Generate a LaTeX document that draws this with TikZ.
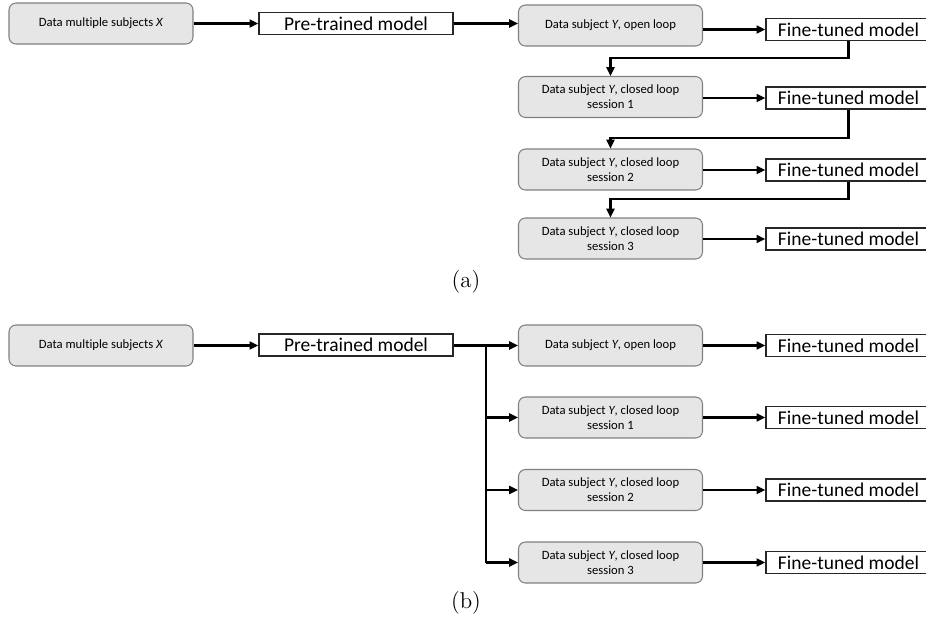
\documentclass[tikz,border=0pt]{standalone}
\usepackage{fontspec}
\setmainfont{Carlito}[Ligatures=NoCommon]
\newfontfamily\capfont{Latin Modern Roman}
\usetikzlibrary{arrows.meta,calc}
\definecolor{boxgray}{HTML}{E7E6E6}
\definecolor{boxline}{HTML}{808080}
\begin{document}
\begin{tikzpicture}[x=0.02cm,y=-0.02cm,
  databox/.style={draw=boxline,line width=0.6pt,fill=boxgray,rounded corners=0.14cm,
    minimum width=3.68cm,minimum height=0.82cm,inner sep=0pt,align=center,
    font=\fontsize{7.2}{8.6}\selectfont},
  modelbox/.style={draw=black!85,line width=0.7pt,fill=white,minimum height=0.44cm,
    inner sep=0pt,font=\fontsize{11.1}{13}\selectfont},
  pretrain/.style={modelbox,minimum width=3.88cm},
  finetune/.style={modelbox,minimum width=3.3cm},
  arr/.style={line width=1.2pt,-{Triangle[length=5pt,width=4.5pt]}},
  link/.style={line width=1.2pt},
  caption/.style={font=\capfont\fontsize{13}{15}\selectfont}]
\useasboundingbox (0,0) rectangle (926,627);

% ---------- (a) sequential fine-tuning ----------
\node[databox] (xa) at (101,23.5) {Data multiple subjects \textit{X}};
\node[pretrain] (pa) at (356,23.5) {Pre-trained model};
\node[databox] (a1) at (610.5,25.5) {Data subject \textit{Y}, open loop};
\node[databox] (a2) at (610.5,97) {Data subject \textit{Y}, closed loop\\session 1};
\node[databox] (a3) at (610.5,169.5) {Data subject \textit{Y}, closed loop\\session 2};
\node[databox] (a4) at (610.5,238.5) {Data subject \textit{Y}, closed loop\\session 3};
\node[finetune] (fa1) at (848.5,29.5) {Fine-tuned model};
\node[finetune] (fa2) at (848.5,98) {Fine-tuned model};
\node[finetune] (fa3) at (848.5,170) {Fine-tuned model};
\node[finetune] (fa4) at (848.5,239) {Fine-tuned model};
\coordinate (ma1) at (0,58);
\coordinate (ma2) at (0,138);
\coordinate (ma3) at (0,199);

\draw[arr] (xa.east |- pa.west) -- (pa.west);
\draw[arr] (pa.east) -- (pa.east -| a1.west);
\draw[arr] (fa1.west -| a1.east) -- (fa1.west);
\draw[arr] (fa2.west -| a2.east) -- (fa2.west);
\draw[arr] (fa3.west -| a3.east) -- (fa3.west);
\draw[arr] (fa4.west -| a4.east) -- (fa4.west);
\draw[arr] (fa1.south) -- (fa1.south |- ma1) -- (a2.north |- ma1) -- (a2.north);
\draw[arr] (fa2.south) -- (fa2.south |- ma2) -- (a3.north |- ma2) -- (a3.north);
\draw[arr] (fa3.south) -- (fa3.south |- ma3) -- (a4.north |- ma3) -- (a4.north);

\node[caption] (capa) at (466,282) {(a)};

% ---------- (b) independent fine-tuning ----------
\node[databox] (xb) at (101,345.5) {Data multiple subjects \textit{X}};
\node[pretrain] (pb) at (356,345) {Pre-trained model};
\node[databox] (b1) at (610.5,345.5) {Data subject \textit{Y}, open loop};
\node[databox] (b2) at (610.5,417.5) {Data subject \textit{Y}, closed loop\\session 1};
\node[databox] (b3) at (610.5,490) {Data subject \textit{Y}, closed loop\\session 2};
\node[databox] (b4) at (610.5,562.5) {Data subject \textit{Y}, closed loop\\session 3};
\node[finetune] (fb1) at (848.5,345.5) {Fine-tuned model};
\node[finetune] (fb2) at (848.5,417.5) {Fine-tuned model};
\node[finetune] (fb3) at (848.5,490) {Fine-tuned model};
\node[finetune] (fb4) at (848.5,562.5) {Fine-tuned model};
\coordinate (fork) at (486,345.5);

\draw[arr] (xb.east) -- (xb.east -| pb.west);
\draw[arr] (pb.east |- b1.west) -- (b1.west);
\draw[link] (fork) -- (fork |- b4.west);
\draw[arr] (fork |- b2.west) -- (b2.west);
\draw[arr] (fork |- b3.west) -- (b3.west);
\draw[arr] (fork |- b4.west) -- (b4.west);
\draw[arr] (b1.east) -- (fb1.west);
\draw[arr] (b2.east) -- (fb2.west);
\draw[arr] (b3.east) -- (fb3.west);
\draw[arr] (b4.east) -- (fb4.west);

\node[caption] (capb) at (466,603) {(b)};
\end{tikzpicture}
\end{document}
